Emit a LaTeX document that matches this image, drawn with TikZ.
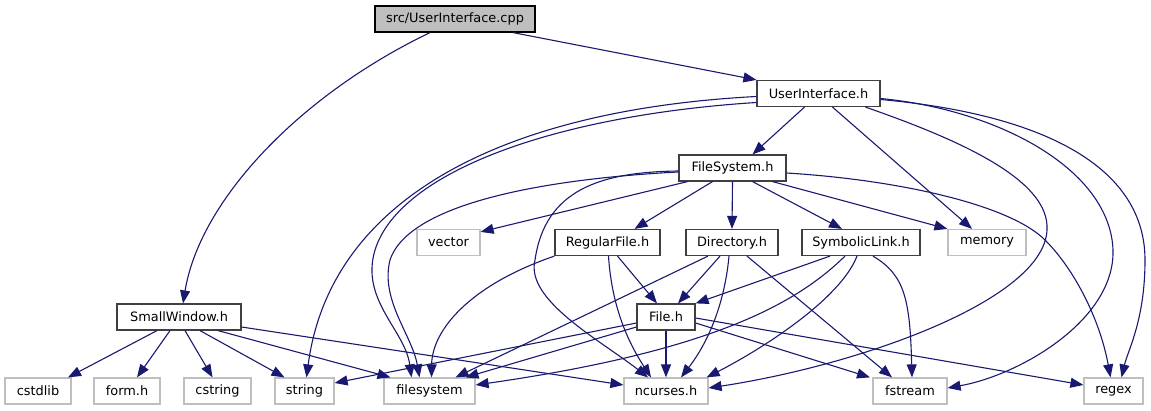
\documentclass[tikz,border=0pt]{standalone}
\usepackage{fontspec}
\setmainfont{DejaVu Sans}
\usetikzlibrary{arrows.meta}
\definecolor{edgec}{HTML}{191970}
\definecolor{hdrc}{HTML}{404040}
\definecolor{sysc}{HTML}{BFBFBF}

\begin{document}
\begin{tikzpicture}[x=1pt,y=-1pt,>={Triangle[length=13pt,width=10pt]},
   font=\fontsize{12.9}{15}\selectfont,
   box/.style={draw,line width=1.2pt,minimum height=26pt,inner sep=0pt,fill=white},
   hdr/.style={box,draw=hdrc},
   sys/.style={box,draw=sysc},
   inc/.style={->,draw=edgec,line width=1.1pt}]
  \useasboundingbox (0,0) rectangle (1151,411);
  \node[box,fill=sysc,draw=black,minimum width=160pt] (cpp) at (455,19) {src/UserInterface.cpp};
  \node[hdr,minimum width=123pt] (ui) at (818.5,93.5) {UserInterface.h};
  \node[hdr,minimum width=107pt] (fs) at (732.5,168) {FileSystem.h};
  \node[sys,minimum width=63pt] (vec) at (448.5,242.5) {vector};
  \node[hdr,minimum width=105pt] (rf) at (607.5,242.5) {RegularFile.h};
  \node[hdr,minimum width=92pt] (dir) at (732,242.5) {Directory.h};
  \node[hdr,minimum width=118pt] (sl) at (861,242.5) {SymbolicLink.h};
  \node[sys,minimum width=78pt] (mem) at (987,242.5) {memory};
  \node[hdr,minimum width=58pt] (fh) at (666,317) {File.h};
  \node[hdr,minimum width=124pt] (sw) at (179,317) {SmallWindow.h};
  \node[sys,minimum width=66pt] (cstdlib) at (38,391) {cstdlib};
  \node[sys,minimum width=66pt] (form) at (127,391) {form.h};
  \node[sys,minimum width=67pt] (cstr) at (217.5,391) {cstring};
  \node[sys,minimum width=59pt] (str) at (304.5,391) {string};
  \node[sys,minimum width=91pt] (fsys) at (429.5,391) {filesystem};
  \node[sys,minimum width=84pt] (ncur) at (666,391) {ncurses.h};
  \node[sys,minimum width=74pt] (fstr) at (910,391) {fstream};
  \node[sys,minimum width=59pt] (rgx) at (1113.5,391) {regex};

  \draw[inc] ([xshift=58]cpp.south) -- (ui.north west);
  \draw[inc] ([xshift=-25]cpp.south) .. controls (300,95) and (200,200) .. ([xshift=4]sw.north);

  \draw[inc] ([xshift=-14]ui.south) -- ([xshift=20]fs.north);
  \draw[inc] ([yshift=-3]ui.west) .. controls (500,110) and (330,200) .. ([xshift=2]str.north);
  \draw[inc] ([yshift=-9]ui.west) .. controls (560,115) and (400,170) .. (375,250)
     .. controls (360,300) and (405,330) .. ([xshift=-18]fsys.north);
  \draw[inc] ([xshift=14]ui.south) -- ([xshift=-15]mem.north);
  \draw[inc] ([xshift=47]ui.south) .. controls (960,140) and (1050,180) .. (1047,230)
     .. controls (1044,300) and (860,365) .. ([yshift=3]ncur.east);
  \draw[inc] ([yshift=-5]ui.east) .. controls (1000,110) and (1110,170) .. (1113,250)
     .. controls (1115,320) and (1020,375) .. ([yshift=3]fstr.east);
  \draw[inc] ([yshift=-6]ui.east) .. controls (1050,115) and (1145,170) .. (1145,260)
     .. controls (1145,320) and (1128,350) .. ([xshift=8]rgx.north);

  \draw[inc] ([yshift=-4]fs.west) .. controls (560,178) and (410,200) .. (390,260)
     .. controls (380,300) and (412,335) .. ([xshift=-10]fsys.north);
  \draw[inc] ([yshift=-3]fs.west) .. controls (600,172) and (545,190) .. (535,260)
     .. controls (525,300) and (600,340) .. ([xshift=-18]ncur.north);
  \draw[inc] ([xshift=-45]fs.south) -- ([yshift=-3]vec.north east);
  \draw[inc] ([xshift=-20]fs.south) -- ([xshift=27]rf.north);
  \draw[inc] (fs.south) -- (dir.north);
  \draw[inc] ([xshift=20]fs.south) -- ([xshift=-19]sl.north);
  \draw[inc] ([xshift=40]fs.south) -- (mem.north west);
  \draw[inc] ([yshift=-5]fs.east) .. controls (900,180) and (1010,205) .. (1045,240)
     .. controls (1075,270) and (1100,320) .. ([xshift=-3]rgx.north);

  \draw[inc] ([xshift=10]rf.south) -- ([xshift=-9]fh.north);
  \draw[inc] ([xshift=1]rf.south) .. controls (612,310) and (630,345) .. ([xshift=-15]ncur.north);
  \draw[inc] (rf.south west) .. controls (470,285) and (432,330) .. ([xshift=2]fsys.north);

  \draw[inc] ([xshift=-12]dir.south) -- ([xshift=12]fh.north);
  \draw[inc] ([xshift=-3]dir.south) .. controls (725,300) and (710,340) .. ([xshift=15]ncur.north);
  \draw[inc] ([xshift=-24]dir.south) -- ([xshift=26]fsys.north);
  \draw[inc] ([xshift=15]dir.south) -- ([xshift=-18]fstr.north);

  \draw[inc] ([xshift=-31]sl.south) -- (fh.north east);
  \draw[inc] ([xshift=-16]sl.south) .. controls (800,300) and (720,350) .. ([yshift=6]fsys.east);
  \draw[inc] ([xshift=-4]sl.south) .. controls (840,300) and (760,350) .. ([xshift=-2]ncur.north east);
  \draw[inc] ([xshift=12]sl.south) .. controls (905,275) and (910,300) .. ([xshift=2]fstr.north);

  \draw[inc] (fh.south) -- (ncur.north);
  \draw[inc] ([yshift=-6]fh.west) -- ([yshift=8]str.east);
  \draw[inc] ([yshift=-10]fh.west) -- ([xshift=36]fsys.north);
  \draw[inc] ([yshift=-6]fh.east) -- ([xshift=-40]fstr.north);
  \draw[inc] ([yshift=-1]fh.east) -- ([yshift=6]rgx.west);

  \draw[inc] ([xshift=-22]sw.south) -- ([xshift=30]cstdlib.north);
  \draw[inc] ([xshift=-9]sw.south) -- ([xshift=10]form.north);
  \draw[inc] ([xshift=6]sw.south) -- ([xshift=-5]cstr.north);
  \draw[inc] ([xshift=21]sw.south) -- ([xshift=-20]str.north);
  \draw[inc] ([xshift=39]sw.south) -- ([xshift=-39]fsys.north);
  \draw[inc] ([yshift=-10]sw.east) -- ([yshift=6]ncur.west);
\end{tikzpicture}
\end{document}
